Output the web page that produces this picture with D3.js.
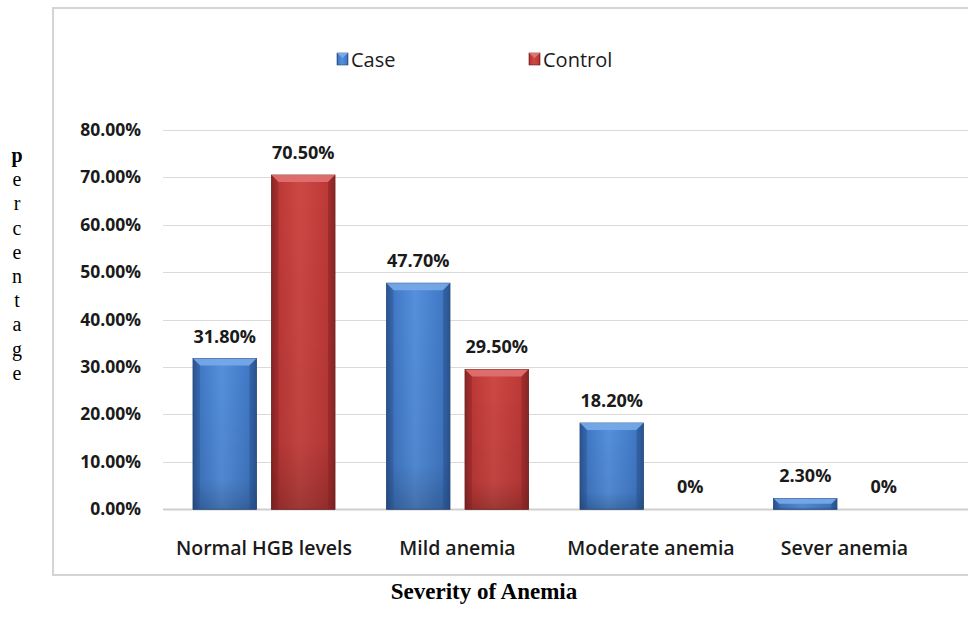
<!DOCTYPE html>
<html>
<head>
<meta charset="utf-8">
<script src="https://cdn.jsdelivr.net/npm/d3@7"></script>
<style>
  html, body { margin: 0; padding: 0; background: #fff; }
  svg { display: block; }
</style>
</head>
<body>
<svg id="chart" width="968" height="624"></svg>
<script>
const categories = ["Normal HGB levels", "Mild anemia", "Moderate anemia", "Sever anemia"];
const seriesNames = ["Case", "Control"];
const caseValues = [0.318, 0.477, 0.182, 0.023];
const controlValues = [0.705, 0.295, 0, 0];
const valueLabels = [["31.80%", "70.50%"], ["47.70%", "29.50%"], ["18.20%", "0%"], ["2.30%", "0%"]];
const yTicks = [0, 0.1, 0.2, 0.3, 0.4, 0.5, 0.6, 0.7, 0.8];
const yAxisLetters = ["p", "e", "r", "c", "e", "n", "t", "a", "g", "e"];
const xTitle = "Severity of Anemia";

const svg = d3.select("#chart");
const defs = svg.append("defs");

const palette = {
  Case: { edge: "#2a5490", mid: "#4179c6", light: "#5590dc", bevel: "#78aae8", stroke: "#27497a" },
  Control: { edge: "#8a2625", mid: "#bd3937", light: "#cc4845", bevel: "#e07270", stroke: "#6a1d1c" }
};

Object.entries(palette).forEach(([k, c]) => {
  const g = defs.append("linearGradient").attr("id", "grad" + k).attr("x1", "0").attr("x2", "1").attr("y1", "0").attr("y2", "0");
  g.append("stop").attr("offset", "0%").attr("stop-color", c.edge);
  g.append("stop").attr("offset", "12%").attr("stop-color", c.mid);
  g.append("stop").attr("offset", "45%").attr("stop-color", c.light);
  g.append("stop").attr("offset", "88%").attr("stop-color", c.mid);
  g.append("stop").attr("offset", "100%").attr("stop-color", c.edge);
  const v = defs.append("linearGradient").attr("id", "vgrad" + k).attr("x1", "0").attr("x2", "0").attr("y1", "0").attr("y2", "1");
  v.append("stop").attr("offset", "0%").attr("stop-color", "#000").attr("stop-opacity", 0);
  v.append("stop").attr("offset", "80%").attr("stop-color", "#000").attr("stop-opacity", 0.06);
  v.append("stop").attr("offset", "100%").attr("stop-color", "#000").attr("stop-opacity", 0.22);
});

// Frame
svg.append("rect").attr("x", 53).attr("y", 8).attr("width", 930).attr("height", 567)
  .attr("fill", "#fff").attr("stroke", "#d4d4d4").attr("stroke-width", 2);

const plotTop = 130, plotBottom = 509.3;
const y = d3.scaleLinear().domain([0, 0.8]).range([plotBottom, plotTop]);
const x0 = d3.scaleBand().domain(categories).range([167.25, 941.25]).paddingInner(0.266).paddingOuter(0.133);
const x1 = d3.scaleBand().domain(seriesNames).range([0, x0.bandwidth()]).paddingInner(0.191);

// Gridlines
svg.append("g").selectAll("line").data(yTicks).join("line")
  .attr("x1", 163).attr("x2", 968)
  .attr("y1", d => Math.round(y(d)) + 0.5).attr("y2", d => Math.round(y(d)) + 0.5)
  .attr("stroke", d => d === 0 ? "#cfcfcf" : "#dadada").attr("stroke-width", d => d === 0 ? 2 : 1);

// Y tick labels
svg.append("g").selectAll("text").data(yTicks).join("text")
  .attr("x", 141).attr("y", d => y(d) + 6)
  .attr("text-anchor", "end")
  .attr("font-family", "'Open Sans', sans-serif").attr("font-weight", 700).attr("font-size", 17.5)
  .attr("fill", "#1a1a1a")
  .text(d => d3.format(".2%")(d));

// Bars
const rows = categories.map((c, i) => ({ cat: c, vals: [caseValues[i], controlValues[i]], labels: valueLabels[i] }));
const groups = svg.append("g").selectAll("g").data(rows).join("g")
  .attr("transform", d => `translate(${x0(d.cat)},0)`);

groups.each(function (d) {
  const g = d3.select(this);
  seriesNames.forEach((s, j) => {
    const v = d.vals[j];
    const bx = x1(s), bw = x1.bandwidth();
    const top = y(v), h = plotBottom - top;
    if (h > 0.5) {
      const c = palette[s];
      g.append("rect").attr("x", bx).attr("y", top).attr("width", bw).attr("height", h)
        .attr("fill", `url(#grad${s})`).attr("stroke", c.stroke).attr("stroke-width", 0.8);
      g.append("rect").attr("x", bx).attr("y", top).attr("width", bw).attr("height", h)
        .attr("fill", `url(#vgrad${s})`);
      const bev = Math.min(7, h / 2);
      g.append("path")
        .attr("d", `M${bx},${top} L${bx + bw},${top} L${bx + bw - bev},${top + bev} L${bx + bev},${top + bev} Z`)
        .attr("fill", c.bevel).attr("opacity", 0.9);
      g.append("path")
        .attr("d", `M${bx},${top} L${bx + bev},${top + bev} L${bx + bev},${plotBottom} L${bx},${plotBottom} Z`)
        .attr("fill", c.edge).attr("opacity", 0.35);
      g.append("path")
        .attr("d", `M${bx + bw},${top} L${bx + bw - bev},${top + bev} L${bx + bw - bev},${plotBottom} L${bx + bw},${plotBottom} Z`)
        .attr("fill", c.edge).attr("opacity", 0.5);
    }
    g.append("text")
      .attr("x", bx + bw / 2).attr("y", top - 16)
      .attr("text-anchor", "middle")
      .attr("font-family", "'Open Sans', sans-serif").attr("font-weight", 700).attr("font-size", 18)
      .attr("fill", "#1a1a1a")
      .text(d.labels[j]);
  });
});

// Category labels
svg.append("g").selectAll("text").data(categories).join("text")
  .attr("x", d => x0(d) + x0.bandwidth() / 2).attr("y", 555)
  .attr("text-anchor", "middle")
  .attr("font-family", "'Open Sans', sans-serif").attr("font-weight", 600).attr("font-size", 19.5)
  .attr("fill", "#1a1a1a")
  .text(d => d);

// Legend
const legend = svg.append("g");
const legendItems = [{ name: "Case", x: 337 }, { name: "Control", x: 529 }];
legendItems.forEach(it => {
  const c = palette[it.name];
  legend.append("rect").attr("x", it.x).attr("y", 53).attr("width", 11).attr("height", 12)
    .attr("fill", `url(#grad${it.name})`).attr("stroke", c.stroke).attr("stroke-width", 0.6);
  legend.append("path").attr("d", `M${it.x},53 L${it.x + 11},53 L${it.x + 5.5},58 Z`).attr("fill", c.bevel);
  legend.append("text").attr("x", it.x + 14).attr("y", 66.5)
    .attr("font-family", "'Open Sans', sans-serif").attr("font-size", 20).attr("fill", "#1a1a1a")
    .text(it.name);
});

// Y axis title (vertical letters)
svg.append("g").selectAll("text").data(yAxisLetters).join("text")
  .attr("x", 17).attr("y", (d, i) => 162 + i * 24.2)
  .attr("text-anchor", "middle")
  .attr("font-family", "'Liberation Serif', 'Times New Roman', serif")
  .attr("font-weight", (d, i) => i === 0 ? 700 : 400)
  .attr("font-size", 20).attr("fill", "#000")
  .text(d => d);

// X axis title
svg.append("text").attr("x", 484).attr("y", 599)
  .attr("text-anchor", "middle")
  .attr("font-family", "'Liberation Serif', 'Times New Roman', serif")
  .attr("font-weight", 700).attr("font-size", 23).attr("fill", "#000")
  .text(xTitle);
</script>
</body>
</html>
